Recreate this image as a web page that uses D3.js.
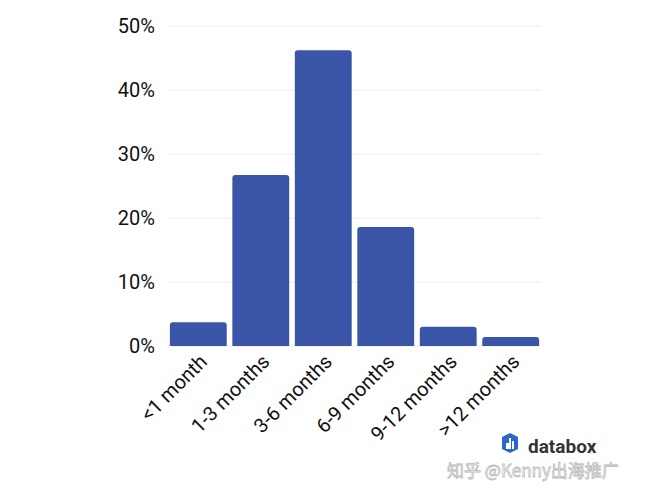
<!DOCTYPE html>
<html>
<head>
<script src="https://d3js.org/d3.v7.min.js"></script>
<style>body{margin:0;background:#fff;}</style>
</head>
<body>
<script>
var categories = ["<1 month", "1-3 months", "3-6 months", "6-9 months", "9-12 months", ">12 months"];
var values = [3.7, 26.7, 46.2, 18.6, 3.0, 1.4];
var ticks = [0, 10, 20, 30, 40, 50];

var w = 666, h = 500;
var svg = d3.select("body").append("svg").attr("width", w).attr("height", h);

var x = d3.scaleBand().domain(categories).range([168, 541]).paddingInner(0.09).paddingOuter(0.03);
var y = d3.scaleLinear().domain([0, 50]).range([346, 26]);

svg.selectAll("line.grid").data(ticks).enter().append("line")
  .attr("x1", 168).attr("x2", 541)
  .attr("y1", function(d){ return y(d); }).attr("y2", function(d){ return y(d); })
  .attr("stroke", "#ececec").attr("stroke-width", 1);

svg.selectAll("text.yt").data(ticks).enter().append("text")
  .attr("x", 155).attr("y", function(d){ return y(d) + 7; })
  .attr("text-anchor", "end").attr("font-family", "Roboto, sans-serif")
  .attr("font-size", 20).attr("fill", "#111")
  .text(function(d){ return d + "%"; });

svg.selectAll("path.bar").data(values).enter().append("path")
  .attr("fill", "#3a54a8")
  .attr("d", function(d, i){
    var x0 = x(categories[i]), bw = x.bandwidth(), y0 = y(d), r = 3;
    return "M" + x0 + "," + y(0) + "V" + (y0 + r) + "Q" + x0 + "," + y0 + " " + (x0 + r) + "," + y0 +
      "H" + (x0 + bw - r) + "Q" + (x0 + bw) + "," + y0 + " " + (x0 + bw) + "," + (y0 + r) + "V" + y(0) + "Z";
  });

svg.selectAll("text.xt").data(categories).enter().append("text")
  .attr("transform", function(d){ return "translate(" + (x(d) + x.bandwidth()/2 + 10) + ",363) rotate(-45)"; })
  .attr("text-anchor", "end").attr("font-family", "Roboto, sans-serif")
  .attr("font-size", 20).attr("fill", "#111")
  .text(function(d){ return d; });

// databox logo
var g = svg.append("g").attr("transform", "translate(510,449)");
g.append("path").attr("d", "M-8,-12 L0,-16 L8,-12 L8,0 L0,4 L-8,0 Z").attr("fill", "#2f64c8");
g.selectAll("rect").data([[-4,-6,3,6],[-1,-11,2,11],[2,-8,2,8]]).enter().append("rect")
  .attr("x", function(d){ return d[0]; }).attr("y", function(d){ return d[1]; })
  .attr("width", function(d){ return d[2]; }).attr("height", function(d){ return d[3]; })
  .attr("fill", "#fff");
svg.append("text").attr("x", 528).attr("y", 453).attr("font-family", "Roboto, sans-serif")
  .attr("font-weight", "bold").attr("font-size", 19).attr("fill", "#333").text("databox");

svg.append("text").attr("x", 447).attr("y", 477).attr("font-family", "Noto Sans CJK SC, sans-serif")
  .attr("font-size", 17).attr("fill", "#fff").attr("stroke", "#bbb").attr("stroke-width", 0.8)
  .text("知乎 @Kenny出海推广");
</script>
</body>
</html>
